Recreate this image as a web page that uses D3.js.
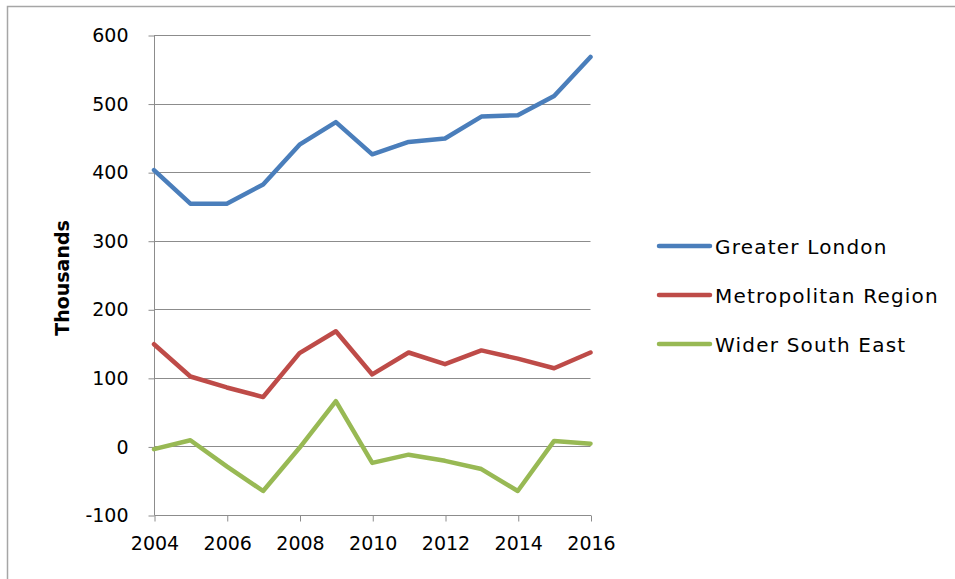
<!DOCTYPE html>
<html>
<head>
<meta charset="utf-8">
<script src="https://cdn.jsdelivr.net/npm/d3@7"></script>
<style>
  html, body { margin: 0; padding: 0; background: #fff; }
  svg { display: block; }
</style>
</head>
<body>
<svg id="chart" width="955" height="579"></svg>
<script>
const years = [2004, 2005, 2006, 2007, 2008, 2009, 2010, 2011, 2012, 2013, 2014, 2015, 2016];
const greaterLondon = [403, 354, 354, 382, 440, 473, 426, 444, 449, 481, 483, 511, 568];
const metropolitanRegion = [149, 102, 86, 72, 136, 168, 105, 137, 120, 140, 128, 114, 137];
const widerSouthEast = [-4, 9, -29, -65, -2, 66, -24, -12, -21, -33, -65, 8, 4];
const seriesNames = ["Greater London", "Metropolitan Region", "Wider South East"];
const seriesColors = ["#4A7EBB", "#BE4B48", "#98B954"];
const yTicks = [-100, 0, 100, 200, 300, 400, 500, 600];
const xTicks = [2004, 2006, 2008, 2010, 2012, 2014, 2016];

const svg = d3.select("#chart");
const font = "'DejaVu Sans', Verdana, sans-serif";

// outer frame
svg.append("rect").attr("x", 7.5).attr("y", 6.5).attr("width", 1000).attr("height", 1000)
  .attr("fill", "none").attr("stroke", "#a6a6a6").attr("stroke-width", 1.5);

const x = d3.scaleLinear().domain([2004, 2016]).range([154, 590.5]);
const y = d3.scaleLinear().domain([-100, 600]).range([515, 35]);

// gridlines
svg.append("g").selectAll("line").data(yTicks.filter(d => d !== -100)).join("line")
  .attr("x1", x(2004)).attr("x2", x(2016))
  .attr("y1", d => Math.round(y(d)) + 0.5).attr("y2", d => Math.round(y(d)) + 0.5)
  .attr("stroke", "#8c8c8c").attr("stroke-width", 1);

// y axis
const yAxis = d3.axisLeft(y).tickValues(yTicks).tickFormat(d => String(d)).tickSize(6).tickPadding(20);
const gy = svg.append("g").attr("transform", `translate(${Math.round(x(2004)) + 0.5},0.5)`).call(yAxis);
gy.select(".domain").attr("stroke", "#8c8c8c").attr("d", `M0,${y(600)}V${y(-100)}`);
gy.selectAll(".tick line").attr("stroke", "#8c8c8c");
gy.selectAll(".tick text").attr("font-family", font).attr("font-size", 19).attr("fill", "#000")
  .attr("dy", "0.32em");

// x axis
const xAxis = d3.axisBottom(x).tickValues(xTicks).tickFormat(d => String(d)).tickSize(6).tickPadding(15);
const gx = svg.append("g").attr("transform", `translate(0.5,${Math.round(y(-100)) + 0.5})`).call(xAxis);
gx.select(".domain").attr("stroke", "#8c8c8c").attr("d", `M${x(2004)},0H${x(2016)}`);
gx.selectAll(".tick line").attr("stroke", "#8c8c8c");
gx.selectAll(".tick text").attr("font-family", font).attr("font-size", 19).attr("fill", "#000");

// y axis title
svg.append("text")
  .attr("transform", `translate(69,278) rotate(-90)`)
  .attr("text-anchor", "middle")
  .attr("font-family", font).attr("font-weight", "bold").attr("font-size", 19)
  .attr("fill", "#000")
  .text("Thousands");

// lines
const seriesData = [greaterLondon, metropolitanRegion, widerSouthEast];
const line = d3.line().x((d, i) => x(years[i])).y(d => y(d));
svg.append("g").selectAll("path").data(seriesData).join("path")
  .attr("d", line)
  .attr("fill", "none")
  .attr("stroke", (d, i) => seriesColors[i])
  .attr("stroke-width", 4.5)
  .attr("stroke-linejoin", "round")
  .attr("stroke-linecap", "round");

// legend
const legendY = d3.scalePoint().domain(seriesNames).range([246, 344]);
const lg = svg.append("g").selectAll("g").data(seriesNames).join("g")
  .attr("transform", d => `translate(0,${legendY(d)})`);
lg.append("line").attr("x1", 659).attr("x2", 710).attr("y1", 0).attr("y2", 0)
  .attr("stroke", (d, i) => seriesColors[i]).attr("stroke-width", 4.5).attr("stroke-linecap", "round");
lg.append("text").attr("x", 715).attr("y", 0).attr("dy", "0.38em")
  .attr("font-family", font).attr("font-size", 20).attr("letter-spacing", 1.2).attr("fill", "#000")
  .text(d => d);
</script>
</body>
</html>
